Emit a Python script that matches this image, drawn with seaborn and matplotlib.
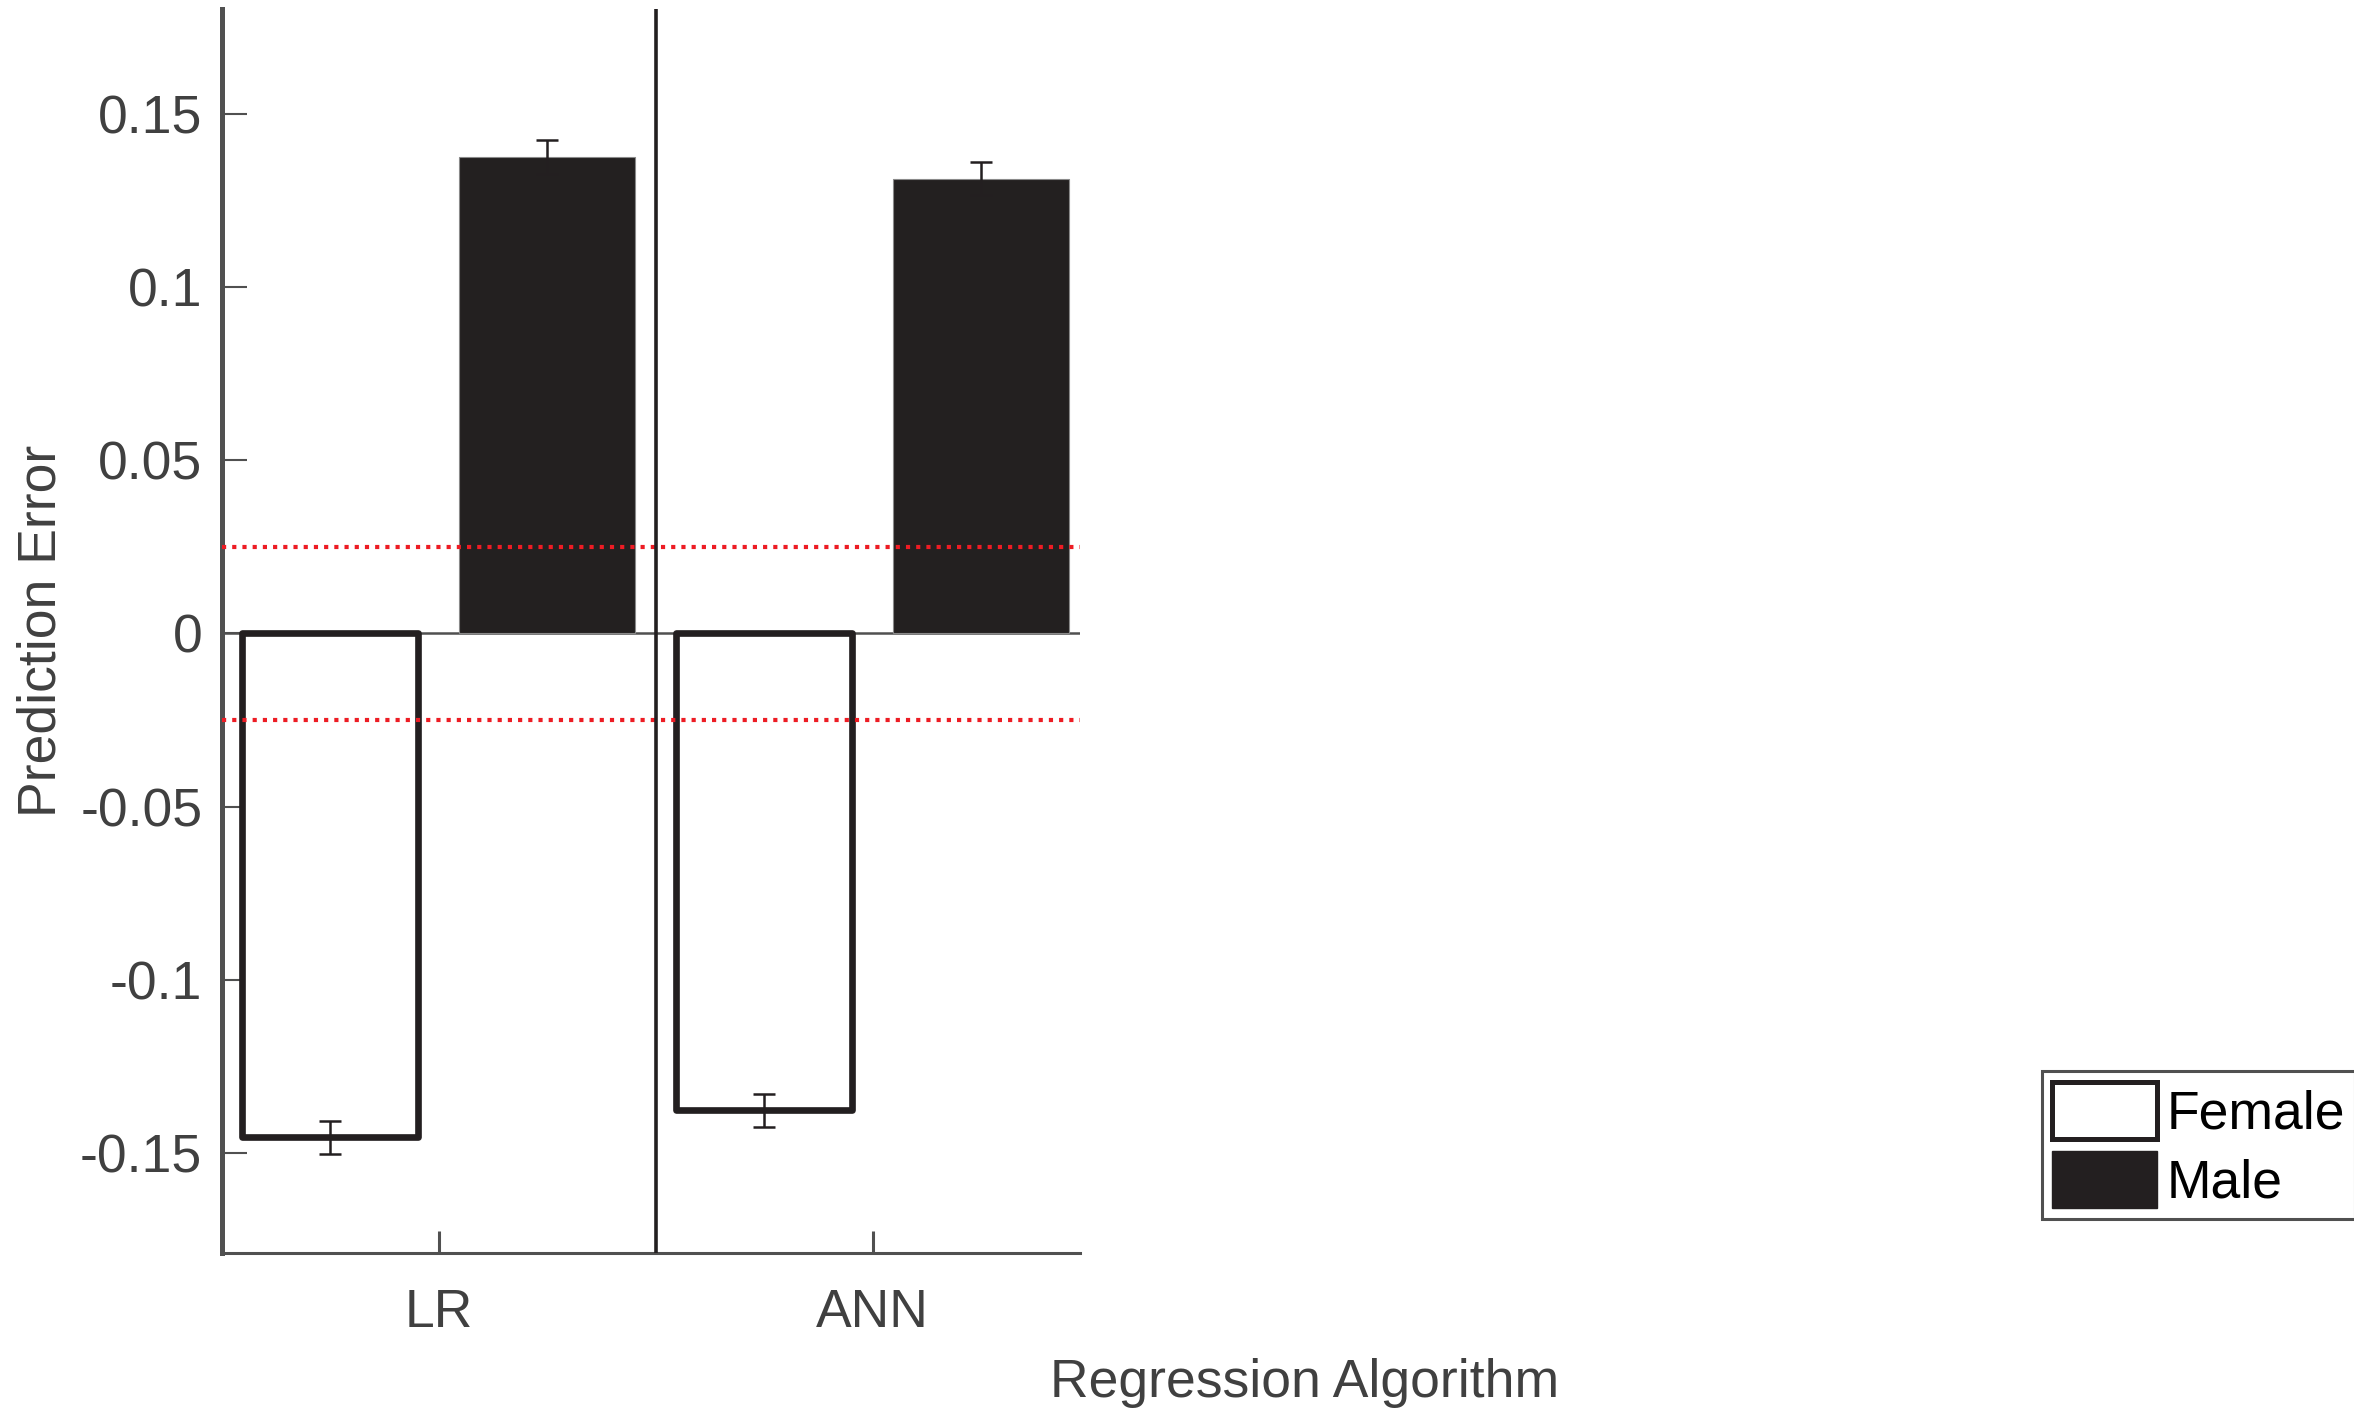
import matplotlib
matplotlib.use("Agg")
import matplotlib.pyplot as plt
from matplotlib.patches import Patch
import seaborn as sns
import pandas as pd

# Mean signed prediction error per regression algorithm and sex
algorithms = ["LR", "ANN"]
sexes = ["Female", "Male"]
female_error = [-0.1456, -0.1378]
male_error = [0.1376, 0.1314]
female_sem = [0.0048, 0.0048]
male_sem = [0.0050, 0.0047]
tolerance = 0.025
y_ticks = [-0.15, -0.1, -0.05, 0, 0.05, 0.1, 0.15]
y_tick_labels = ["-0.15", "-0.1", "-0.05", "0", "0.05", "0.1", "0.15"]

df = pd.DataFrame({
    "Algorithm": algorithms * 2,
    "Sex": [sexes[0]] * len(algorithms) + [sexes[1]] * len(algorithms),
    "Error": female_error + male_error,
})
sem_by_sex = {"Female": female_sem, "Male": male_sem}
err_by_sex = {"Female": female_error, "Male": male_error}

sns.set_theme(style="white")
plt.rcParams["font.family"] = ["Liberation Sans", "DejaVu Sans"]
plt.rcParams["axes.unicode_minus"] = False

DARK = "#231f20"
AXIS = "#505050"
TEXT = "#404040"
FS = 38.5

fig = plt.figure(figsize=(23.54, 14.12), dpi=100)
ax = fig.add_axes([0.0942, 0.1126, 0.3646, 0.881])

sns.barplot(
    data=df, x="Algorithm", y="Error", hue="Sex",
    order=algorithms, hue_order=sexes,
    palette={"Female": "white", "Male": DARK},
    width=1.0, gap=0.19, errorbar=None, legend=False, ax=ax,
)

# Outline styles: heavy black outline for the open bars, thin grey edge for filled ones
for sex, container in zip(sexes, ax.containers):
    for bar in container:
        if sex == "Female":
            bar.set_edgecolor(DARK)
            bar.set_linewidth(4.8)
            bar.set_joinstyle("round")
        else:
            bar.set_edgecolor("#8a8a8a")
            bar.set_linewidth(0.8)
        bar.set_zorder(2)
    xs = [b.get_x() + b.get_width() / 2 for b in container]
    ax.errorbar(xs, err_by_sex[sex], yerr=sem_by_sex[sex], fmt="none",
                ecolor=DARK, elinewidth=1.8, capsize=8, capthick=1.8, zorder=3)

# Zero baseline, tolerance band and group divider
ax.axhline(0, color=AXIS, lw=1.8, zorder=1)
for level in (tolerance, -tolerance):
    ax.axhline(level, color="#ed1c24", lw=3.0, linestyle=(0, (1, 1.45)),
               dash_capstyle="butt", zorder=4)
ax.axvline(0.5, color=DARK, lw=2.6, zorder=4)

ax.set_xlim(-0.4995, 1.478)
ax.set_ylim(-0.179, 0.1804)
ax.set_yticks(y_ticks)
ax.set_yticklabels(y_tick_labels)

for side in ("top", "right"):
    ax.spines[side].set_visible(False)
ax.spines["left"].set_linewidth(3.6)
ax.spines["bottom"].set_linewidth(2.2)
for side in ("left", "bottom"):
    ax.spines[side].set_color(AXIS)

ax.tick_params(axis="y", left=True, direction="in", length=18, width=1.5,
               color=AXIS, labelsize=FS, labelcolor=TEXT, pad=14)
ax.tick_params(axis="x", bottom=True, direction="in", length=16, width=2.2,
               color=AXIS, labelsize=FS, labelcolor=TEXT, pad=25)

ax.set_ylabel("Prediction Error", fontsize=FS, color=TEXT)
ax.yaxis.set_label_coords(-0.181, 0.5)
ax.set_xlabel("Regression Algorithm", fontsize=FS, color=TEXT, va="baseline")
ax.xaxis.set_label_coords(1.2615, -0.1158)

handles = [
    Patch(facecolor="white", edgecolor=DARK, linewidth=3.6, joinstyle="round"),
    Patch(facecolor=DARK, edgecolor=DARK, linewidth=1.0, joinstyle="round"),
]
leg = fig.legend(
    handles, sexes, loc="upper left",
    bbox_to_anchor=(2041.7 / 2354, 1 - 1071 / 1412),
    fontsize=FS, fancybox=False, framealpha=1, edgecolor=AXIS,
    handlelength=1.96, handleheight=1.26, handletextpad=0.17,
    borderpad=0.2, labelspacing=0.22, borderaxespad=0,
)
leg.get_frame().set_linewidth(2.2)
for t in leg.get_texts():
    t.set_color("black")

fig.savefig("out.png", dpi=100)
